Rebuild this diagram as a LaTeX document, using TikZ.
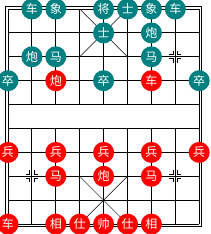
\documentclass[tikz,border=0pt]{standalone}
\usepackage{fontspec}
\newfontfamily\cjk{Noto Sans CJK SC}
\definecolor{pcteal}{RGB}{0,128,128}
\definecolor{pcred}{RGB}{255,0,0}
\tikzset{
  gridline/.style={line width=0.9pt, black},
  palace/.style={line width=0.5pt, black},
  piece/.style={circle, minimum size=21pt, inner sep=0pt, text=white, font=\cjk\fontsize{12}{12}\selectfont},
  bpc/.style={piece, fill=pcteal},
  rpc/.style={piece, fill=pcred},
  pics/mark/.style={code={
    \draw[line width=0.8pt] (2pt,6pt) -- (2pt,2pt) -- (6pt,2pt);
    \draw[line width=0.8pt] (-2pt,6pt) -- (-2pt,2pt) -- (-6pt,2pt);
    \draw[line width=0.8pt] (2pt,-6pt) -- (2pt,-2pt) -- (6pt,-2pt);
    \draw[line width=0.8pt] (-2pt,-6pt) -- (-2pt,-2pt) -- (-6pt,-2pt);
  }}
}
\begin{document}
\begin{tikzpicture}[x=23.9pt, y=-23.9pt]
\useasboundingbox[fill=white] (-0.3347,-0.3766) rectangle (8.452,9.414);
% outer frame
\draw[line width=0.8pt] (-0.11,-0.11) rectangle (8.09,9.09);
% horizontal lines
\foreach \j in {0,...,9} \draw[gridline] (0,\j) -- (8,\j);
% vertical lines
\foreach \i in {0,8} \draw[gridline] (\i,0) -- (\i,9);
\foreach \i in {1,...,7} {
  \draw[gridline] (\i,0) -- (\i,4);
  \draw[gridline] (\i,5) -- (\i,9);
}
% palaces
\draw[palace] (3,0) -- (5,2) (5,0) -- (3,2);
\draw[palace] (3,7) -- (5,9) (5,7) -- (3,9);
% marks
\pic at (7,2) {mark};
\pic at (1,7) {mark};
\pic at (7,7) {mark};
% black (teal) pieces
\node[bpc] (b1) at (1,0) {车};
\node[bpc] (b2) at (2,0) {象};
\node[bpc] (b3) at (4,0) {将};
\node[bpc] (b4) at (5,0) {士};
\node[bpc] (b5) at (6,0) {象};
\node[bpc] (b6) at (7,0) {车};
\node[bpc] (b7) at (4,1) {士};
\node[bpc] (b8) at (6,1) {炮};
\node[bpc] (b9) at (1,2) {炮};
\node[bpc] (b10) at (2,2) {马};
\node[bpc] (b11) at (6,2) {马};
\node[bpc] (b12) at (0,3) {卒};
\node[bpc] (b13) at (4,3) {卒};
\node[bpc] (b14) at (8,3) {卒};
% red pieces
\node[rpc] (r1) at (2,3) {炮};
\node[rpc] (r2) at (6,3) {车};
\node[rpc] (r3) at (0,6) {兵};
\node[rpc] (r4) at (2,6) {兵};
\node[rpc] (r5) at (4,6) {兵};
\node[rpc] (r6) at (6,6) {兵};
\node[rpc] (r7) at (8,6) {兵};
\node[rpc] (r8) at (2,7) {马};
\node[rpc] (r9) at (4,7) {炮};
\node[rpc] (r10) at (6,7) {马};
\node[rpc] (r11) at (0,9) {车};
\node[rpc] (r12) at (2,9) {相};
\node[rpc] (r13) at (3,9) {仕};
\node[rpc] (r14) at (4,9) {帅};
\node[rpc] (r15) at (5,9) {仕};
\node[rpc] (r16) at (6,9) {相};
\end{tikzpicture}
\end{document}
